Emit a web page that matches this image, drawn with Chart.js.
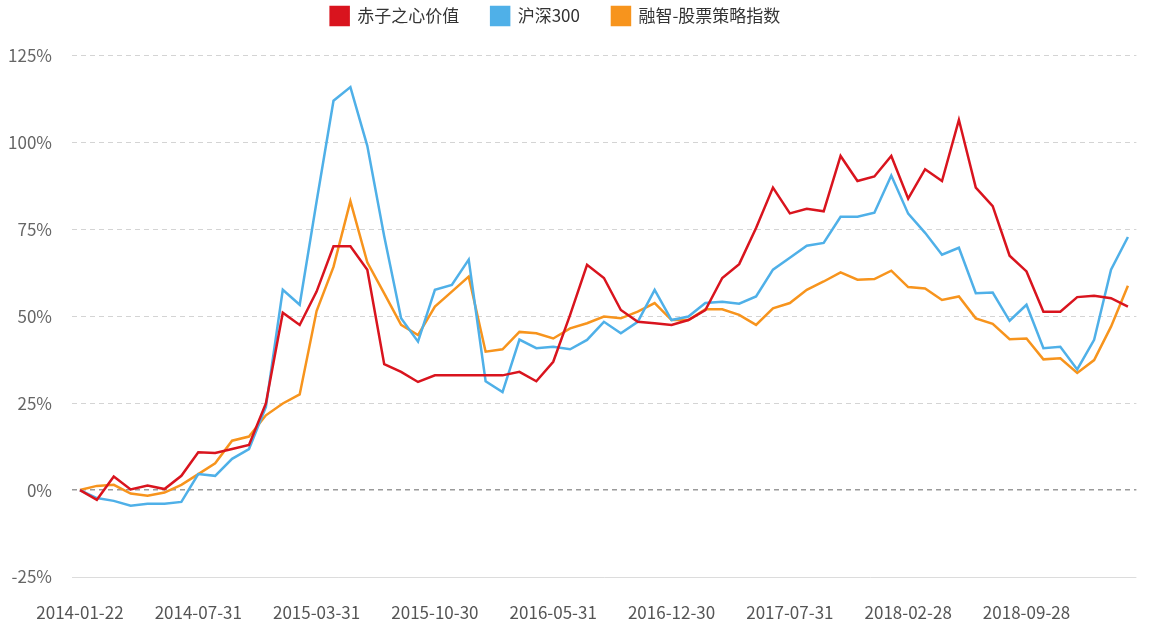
<!DOCTYPE html>
<html lang="zh-CN">
<head>
<meta charset="utf-8">
<title>赤子之心价值 / 沪深300 / 融智-股票策略指数</title>
<script src="https://cdn.jsdelivr.net/npm/chart.js@4.4.1/dist/chart.umd.min.js"></script>
<style>
    html, body { margin: 0; padding: 0; background: #fff; }
    .chart-box { position: relative; width: 1153px; height: 625px; }
</style>
</head>
<body>
<div class="chart-box"><canvas id="navChart"></canvas></div>
<script>
// 日期 (月末净值日)
const dates = [
    '2014-01-22', '2014-01-30', '2014-02-28', '2014-03-31', '2014-04-30', '2014-05-30', '2014-06-30',
    '2014-07-31', '2014-08-29', '2014-09-30', '2014-10-31', '2014-11-28', '2014-12-31', '2015-01-30',
    '2015-03-31', '2015-04-30', '2015-05-29', '2015-06-30', '2015-07-31', '2015-08-31', '2015-09-30',
    '2015-10-30', '2015-11-30', '2015-12-31', '2016-01-29', '2016-02-29', '2016-03-31', '2016-04-29',
    '2016-05-31', '2016-06-30', '2016-07-29', '2016-08-31', '2016-09-30', '2016-10-31', '2016-11-30',
    '2016-12-30', '2017-01-26', '2017-02-28', '2017-03-31', '2017-04-28', '2017-05-31', '2017-06-30',
    '2017-07-31', '2017-08-31', '2017-09-29', '2017-10-31', '2017-11-30', '2017-12-29', '2018-01-31',
    '2018-02-28', '2018-03-30', '2018-04-27', '2018-05-31', '2018-06-29', '2018-07-31', '2018-08-31',
    '2018-09-28', '2018-10-31', '2018-11-30', '2018-12-28', '2019-01-31', '2019-02-28', '2019-03-29'
];

// 累计收益率 (%)
const chiziValues = [
    0, -2.8, 3.9, 0.2, 1.3, 0.3, 4.1, 10.9, 10.7, 11.8, 13, 24.9, 51, 47.5,
    57.1, 70.1, 70.1, 63.4, 36.2, 34, 31.1, 33, 33, 33, 33, 33, 34, 31.3,
    36.9, 50.4, 64.8, 61, 51.8, 48.4, 48, 47.5, 48.9, 51.8, 61, 65, 75.4, 87,
    79.6, 80.9, 80.2, 96.1, 88.9, 90.2, 96.1, 83.8, 92.3, 88.9, 106.5, 87, 81.7, 67.4,
    62.9, 51.3, 51.3, 55.5, 55.9, 55.2, 52.8
];
const hs300Values = [
    0, -2.3, -3.1, -4.5, -3.9, -3.9, -3.4, 4.6, 4.1, 9, 11.8, 23.9, 57.6, 53.3,
    83, 112, 115.9, 99, 73, 49.4, 42.7, 57.6, 59, 66.3, 31.3, 28.2, 43.3, 40.8,
    41.2, 40.5, 43.2, 48.4, 45.1, 48.4, 57.6, 48.9, 49.9, 53.8, 54.2, 53.6, 55.7, 63.4,
    66.8, 70.3, 71.1, 78.6, 78.6, 79.8, 90.5, 79.5, 74, 67.7, 69.7, 56.6, 56.8, 48.7,
    53.3, 40.8, 41.2, 34.7, 43.2, 63.4, 72.8
];
const rongzhiValues = [
    0, 1.2, 1.5, -1, -1.6, -0.7, 1.5, 4.6, 7.7, 14.2, 15.4, 21.5, 24.9, 27.5,
    51.5, 64.2, 83.1, 65.5, 56.6, 47.5, 44.6, 52.8, 57.1, 61.4, 39.8, 40.5, 45.5, 45.1,
    43.6, 46.5, 48, 49.9, 49.4, 51.3, 53.8, 48.9, 48.9, 52, 52, 50.4, 47.5, 52.3,
    53.8, 57.6, 60, 62.6, 60.5, 60.7, 63.1, 58.4, 58, 54.7, 55.7, 49.4, 47.8, 43.4,
    43.6, 37.6, 37.9, 33.7, 37.4, 47, 58.8
];

const yTicks = [-25, 0, 25, 50, 75, 100, 125];
const labelEvery = 7;

const fontFamily = "'Noto Sans CJK SC', 'Noto Sans', sans-serif";

// 图例稍微左移、上移
const legendShift = {
    id: 'legendShift',
    afterLayout(chart) {
        const lg = chart.legend;
        if (!lg) return;
        lg.left -= 20;
        lg.right -= 20;
        lg.top = -25;
        lg.bottom = lg.top + lg.height;
    }
};

function makeDataset(label, data, color) {
    return {
        label: label,
        data: data,
        borderColor: color,
        backgroundColor: color,
        borderWidth: 2.5,
        pointRadius: 0,
        pointHoverRadius: 0,
        tension: 0,
        fill: false
    };
}

const ctx = document.getElementById('navChart').getContext('2d');
const navChart = new Chart(ctx, {
    type: 'line',
    data: {
        labels: dates,
        datasets: [
            makeDataset('赤子之心价值', chiziValues, '#d9141e'),
            makeDataset('沪深300', hs300Values, '#4fb0e8'),
            makeDataset('融智-股票策略指数', rongzhiValues, '#f7941d')
        ]
    },
    options: {
        responsive: true,
        maintainAspectRatio: false,
        devicePixelRatio: 1,
        animation: false,
        layout: {
            padding: { top: -4.5, left: 7.5, right: 9.5, bottom: 0 }
        },
        plugins: {
            legend: {
                position: 'top',
                labels: {
                    boxWidth: 18,
                    boxHeight: 18,
                    padding: 32,
                    color: '#333',
                    font: { family: fontFamily, size: 17 }
                }
            },
            tooltip: { enabled: false }
        },
        scales: {
            x: {
                offset: true,
                grid: { display: false, drawTicks: false },
                border: { display: false },
                afterFit(scale) { scale.height = 48; },
                ticks: {
                    autoSkip: false,
                    maxRotation: 0,
                    minRotation: 0,
                    padding: 25,
                    color: '#555',
                    font: { family: fontFamily, size: 17 },
                    callback: function (val, index) {
                        return index % labelEvery === 0 ? this.getLabelForValue(val) : '';
                    }
                }
            },
            y: {
                min: yTicks[0],
                max: yTicks[yTicks.length - 1],
                afterFit(scale) { scale.width = 64; },
                afterBuildTicks(scale) {
                    scale.ticks = yTicks.map(v => ({ value: v }));
                },
                grid: {
                    drawTicks: false,
                    color: c => c.tick.value === 0 ? '#9a9a9a' : (c.tick.value === -25 ? '#dcdcdc' : '#d4d4d4'),
                    lineWidth: c => c.tick.value === 0 ? 1.6 : 1
                },
                border: {
                    display: false,
                    dash: c => c.tick && c.tick.value === -25 ? [] : [5, 4]
                },
                ticks: {
                    padding: 19.5,
                    color: '#666',
                    font: { family: fontFamily, size: 17 },
                    callback: v => v + '%'
                }
            }
        }
    },
    plugins: [legendShift]
});
</script>
</body>
</html>
